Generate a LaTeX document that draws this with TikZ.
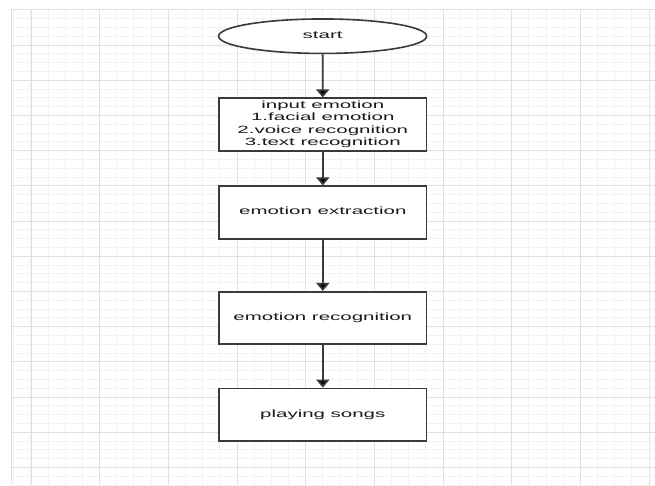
\documentclass[tikz,border=0pt]{standalone}
\usepackage{fontspec}
\setmainfont{Liberation Sans}
\usetikzlibrary{arrows.meta,shapes.geometric}
\definecolor{gridmajor}{HTML}{E0E0E0}
\definecolor{gridminor}{HTML}{F2F2F2}
\definecolor{edgecol}{HTML}{3A3A3A}
\definecolor{txtcol}{HTML}{1A1A1A}
\newcommand{\stretchtext}[1]{\raisebox{-1.2pt}{\scalebox{1.95}[1]{\fontsize{10.5}{12.3}\selectfont\begin{tabular}{@{}c@{}}#1\end{tabular}}}}
\tikzset{
  stepbox/.style={draw=edgecol, line width=1.7pt, fill=white, rectangle,
    minimum width=207.5pt, minimum height=52.5pt, inner sep=0pt, text=txtcol},
  termbox/.style={draw=edgecol, line width=1.6pt, fill=white, ellipse,
    minimum width=208pt, minimum height=34.5pt, inner sep=0pt, text=txtcol},
  conn/.style={draw=edgecol, line width=1.8pt, -{Triangle[width=13pt,length=8pt,fill=black]}}
}
\begin{document}
\begin{tikzpicture}[x=1pt,y=-1pt]
\useasboundingbox (0,0) rectangle (655,485);
\fill[white] (0,0) rectangle (655,485);
% minor grid
\foreach \i in {0,...,37} {
  \draw[gridminor, line width=1pt] ({13.8+17.17*\i},9.8) -- ({13.8+17.17*\i},485);
}
\foreach \j in {0,...,54} {
  \draw[gridminor, line width=1pt] (11,{9.8+8.8*\j}) -- (655,{9.8+8.8*\j});
}
% major grid
\foreach \i in {0,...,9} {
  \draw[gridmajor, line width=1pt] ({31+68.7*\i},9.8) -- ({31+68.7*\i},485);
}
\foreach \j in {0,...,12} {
  \draw[gridmajor, line width=1pt] (11,{45+35.2*\j}) -- (655,{45+35.2*\j});
}
% border
\draw[gridmajor, line width=1pt] (11,485) -- (11,9.8) -- (655,9.8);

% nodes
\node[termbox] (start) at (322.6,36.2) {\stretchtext{start}};
\node[stepbox] (input) at (322.8,124.5) {\stretchtext{input emotion\\1.facial emotion\\2.voice recognition\\3.text recognition}};
\node[stepbox] (extract) at (322.8,212.5) {\stretchtext{emotion extraction}};
\node[stepbox] (recog) at (322.8,318) {\stretchtext{emotion recognition}};
\node[stepbox] (play) at (322.8,414.7) {\stretchtext{playing songs}};

% connectors
\draw[conn] (start) -- (input);
\draw[conn] (input) -- (extract);
\draw[conn] (extract) -- (recog);
\draw[conn] (recog) -- (play);
\end{tikzpicture}
\end{document}
